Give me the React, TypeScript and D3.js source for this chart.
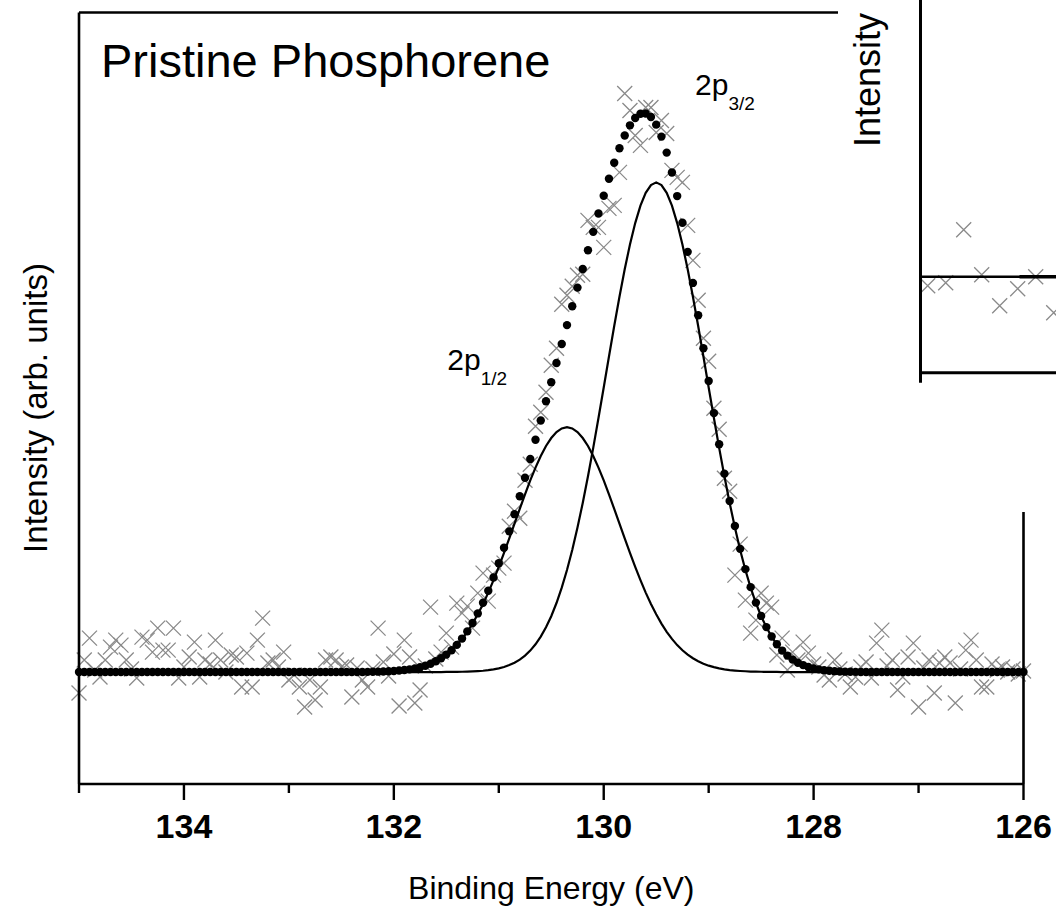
import React from 'react';
import * as d3 from 'd3';

// ---------- data ----------
const E_START = 135; // eV, first sample of the scan
const E_STEP = 0.05; // eV per sample

// measured spectrum (arb. units, background removed), from 135 eV down to 126 eV
const RAW = [
  -21, 12, 34, 2, -5, 12, 25, 32, 27, 12,
  3, -6, 35, 32, 20, 44, 22, 22, 44, -6,
  5, 15, 30, -5, 12, 8, 32, 12, 0, 17,
  15, -15, 19, -15, 32, 54, 9, 12, 5, 20,
  -8, -3, -15, -35, -8, -28, -15, 12, 15, 12,
  5, 7, -25, 4, -8, -15, 3, 44, 10, -4,
  18, -34, 32, 15, -31, -18, 6, 65, 13, 20,
  39, 25, 69, 59, 66, 44, 79, 99, 71, 97,
  104, 109, 146, 161, 154, 192, 208, 246, 260, 280,
  307, 324, 368, 377, 386, 397, 398, 452, 445, 445,
  425, 464, 467, 500, 579, 562, 537, 527, 565, 565,
  540, 552, 539, 502, 495, 490, 447, 412, 372, 334,
  311, 264, 243, 194, 181, 97, 128, 72, 39, 52,
  79, 69, 65, 17, 34, 2, 20, 12, 30, 19,
  8, 5, -3, -8, 12, 3, -2, -15, -5, 5,
  10, -6, 29, 42, 6, 12, -18, -5, 15, 29,
  -35, 4, 12, -21, 9, 15, 9, -31, 3, 22,
  32, 12, -15, -15, 8, 2, 5, 0, 3, -2,
  1,
];

// fitted 2p3/2 component, starting at 131.5 eV (zero outside)
const P32_START = 131.5;
const P32 = [
  0.1, 0.1, 0.2, 0.3, 0.4, 0.6, 0.9, 1.3, 1.9, 2.7,
  3.7, 5.1, 7.0, 9.4, 12.5, 16.5, 21.5, 27.8, 35.5, 44.8,
  55.9, 69.1, 84.5, 102.2, 122.2, 144.6, 169.2, 195.9, 224.3, 254.2,
  284.8, 315.8, 346.3, 375.6, 403.1, 427.8, 449.3, 466.7, 479.5, 487.3,
  490,
  487.3, 479.5, 466.7, 449.3, 427.8, 403.1, 375.6, 346.3, 315.8, 284.8,
  254.2, 224.3, 195.9, 169.2, 144.6, 122.2, 102.2, 84.5, 69.1, 55.9,
  44.8, 35.5, 27.8, 21.5, 16.5, 12.5, 9.4, 7.0, 5.1, 3.7,
  2.7, 1.9, 1.3, 0.9, 0.6, 0.4, 0.3, 0.2, 0.1, 0.1,
];

// fitted 2p1/2 component, starting at 132.35 eV (zero outside)
const P12_START = 132.35;
const P12 = [
  0.1, 0.1, 0.2, 0.3, 0.4, 0.5, 0.8, 1.1, 1.5, 2.0,
  2.7, 3.7, 4.9, 6.4, 8.3, 10.8, 13.8, 17.4, 21.8, 27.0,
  33.2, 40.3, 48.5, 57.8, 68.1, 79.5, 92.0, 105.2, 119.3, 133.8,
  148.6, 163.4, 177.9, 191.8, 204.6, 216.2, 226.2, 234.2, 240.1, 243.8,
  245,
  243.8, 240.1, 234.2, 226.2, 216.2, 204.6, 191.8, 177.9, 163.4, 148.6,
  133.8, 119.3, 105.2, 92.0, 79.5, 68.1, 57.8, 48.5, 40.3, 33.2,
  27.0, 21.8, 17.4, 13.8, 10.8, 8.3, 6.4, 4.9, 3.7, 2.7,
  2.0, 1.5, 1.1, 0.8, 0.5, 0.4, 0.3, 0.2, 0.1, 0.1,
];

const MAJOR_TICKS = [134, 132, 130, 128, 126];
const MINOR_TICKS = [135, 133, 131, 129, 127];

const TITLE = 'Pristine Phosphorene';
const X_LABEL = 'Binding Energy (eV)';
const Y_LABEL = 'Intensity (arb. units)';

// partly visible neighbouring panel (top right)
const INSET_Y_LABEL = 'Intensity';
const INSET_E = [139.96, 139.86, 139.76, 139.66, 139.56, 139.46, 139.36, 139.26];
const INSET_RAW = [-9, -6, 47, 2, -29, -12, 0, -36];

// ---------- chart ----------
const FONT = 'Arial, "Liberation Sans", Helvetica, sans-serif';

function compAt(start: number, arr: number[], e: number) {
  const i = Math.round((start - e) / E_STEP);
  return i >= 0 && i < arr.length ? arr[i] : 0;
}

export default function App() {
  const W = 1056;
  const H = 910;
  const left = 79;
  const right = 1023.5;
  const top = 12.5;
  const bottom = 784;

  const x = d3.scaleLinear().domain([135, 126]).range([left, right]);
  const y = d3.scaleLinear().domain([-112, 660]).range([bottom, top]);

  const energies = RAW.map((_, k) => +(E_START - k * E_STEP).toFixed(2));
  const p32 = energies.map((e) => ({ e, v: compAt(P32_START, P32, e) }));
  const p12 = energies.map((e) => ({ e, v: compAt(P12_START, P12, e) }));
  const env = energies.map((e, k) => ({ e, v: p32[k].v + p12[k].v }));
  const raw = energies.map((e, k) => ({ e, v: RAW[k] }));

  const line = d3
    .line<{ e: number; v: number }>()
    .x((d) => x(d.e))
    .y((d) => y(d.v));

  const crossPath = (cx: number, cy: number, s = 7.5) =>
    `M${cx - s},${cy - s}L${cx + s},${cy + s}M${cx - s},${cy + s}L${cx + s},${cy - s}`;

  // inset scales
  const xi = d3.scaleLinear().domain([140, 139.25]).range([920.5, 1055.5]);
  const yi = d3.scaleLinear().domain([-96, 276.7]).range([372.7, 0]);

  const a32 = { e: 129.13, v: 577 };
  const a12 = { e: 131.49, v: 302 };

  return (
    <svg
      width={W}
      height={H}
      viewBox={`0 0 ${W} ${H}`}
      style={{ position: 'absolute', left: 0, top: 0, background: '#fff' }}
      fontFamily={FONT}
    >
      <rect x={0} y={0} width={W} height={H} fill="#fff" />

      {/* raw data crosses */}
      <g stroke="#8a8a8a" strokeWidth={1.3} fill="none">
        {raw.map((d, i) => (
          <path key={i} d={crossPath(x(d.e), y(d.v))} />
        ))}
      </g>

      {/* fitted components */}
      <path d={line(p12) || ''} fill="none" stroke="#000" strokeWidth={2.2} />
      <path d={line(p32) || ''} fill="none" stroke="#000" strokeWidth={2.2} />

      {/* envelope dots */}
      <g fill="#000">
        {env.map((d, i) => (
          <circle key={i} cx={x(d.e)} cy={y(d.v)} r={4.2} />
        ))}
      </g>

      {/* frame */}
      <g stroke="#000" strokeWidth={2.6} fill="none">
        <line x1={left} y1={top} x2={left} y2={bottom} />
        <line x1={left} y1={bottom} x2={right} y2={bottom} />
        <line x1={right} y1={top} x2={right} y2={bottom} />
        <line x1={left} y1={top} x2={right} y2={top} />
      </g>
      <g stroke="#000" strokeWidth={2.4}>
        {MAJOR_TICKS.map((t) => (
          <line key={t} x1={x(t)} x2={x(t)} y1={bottom} y2={bottom + 16} />
        ))}
        {MINOR_TICKS.map((t) => (
          <line key={t} x1={x(t)} x2={x(t)} y1={bottom} y2={bottom + 9} />
        ))}
      </g>
      <g fontSize={34} fontWeight="bold" textAnchor="middle" fill="#000">
        {MAJOR_TICKS.map((t) => (
          <text key={t} x={x(t)} y={838}>
            {t}
          </text>
        ))}
      </g>

      <text x={(left + right) / 2} y={899} fontSize={32} textAnchor="middle" fill="#000">
        {X_LABEL}
      </text>
      <text
        transform={`translate(47, 408) rotate(-90)`}
        fontSize={33}
        textAnchor="middle"
        fill="#000"
      >
        {Y_LABEL}
      </text>

      <text x={101} y={77} fontSize={47} fill="#000">
        {TITLE}
      </text>

      <text x={x(a32.e)} y={y(a32.v)} fontSize={30} fill="#000">
        2p
        <tspan fontSize={19} dy={15}>
          3/2
        </tspan>
      </text>
      <text x={x(a12.e)} y={y(a12.v)} fontSize={30} fill="#000">
        2p
        <tspan fontSize={19} dy={15}>
          1/2
        </tspan>
      </text>

      {/* neighbouring panel overlapping the corner */}
      <rect x={838} y={0} width={W - 838} height={512} fill="#fff" />
      <text
        transform={`translate(880, 80) rotate(-90)`}
        fontSize={36}
        textAnchor="middle"
        fill="#000"
      >
        {INSET_Y_LABEL}
      </text>
      <g stroke="#8a8a8a" strokeWidth={1.3} fill="none">
        {INSET_E.map((e, i) => (
          <path key={i} d={crossPath(xi(e), yi(INSET_RAW[i]))} />
        ))}
      </g>
      <line x1={xi(140)} x2={W} y1={yi(0)} y2={yi(0)} stroke="#000" strokeWidth={2.4} />
      <line x1={xi(139.45)} x2={W} y1={yi(0)} y2={yi(0)} stroke="#000" strokeWidth={3.4} />
      <g stroke="#000" strokeWidth={3} fill="none">
        <line x1={xi(140)} x2={xi(140)} y1={0} y2={yi(-96) + 10} />
        <line x1={xi(140)} x2={W} y1={yi(-96)} y2={yi(-96)} />
      </g>
    </svg>
  );
}
